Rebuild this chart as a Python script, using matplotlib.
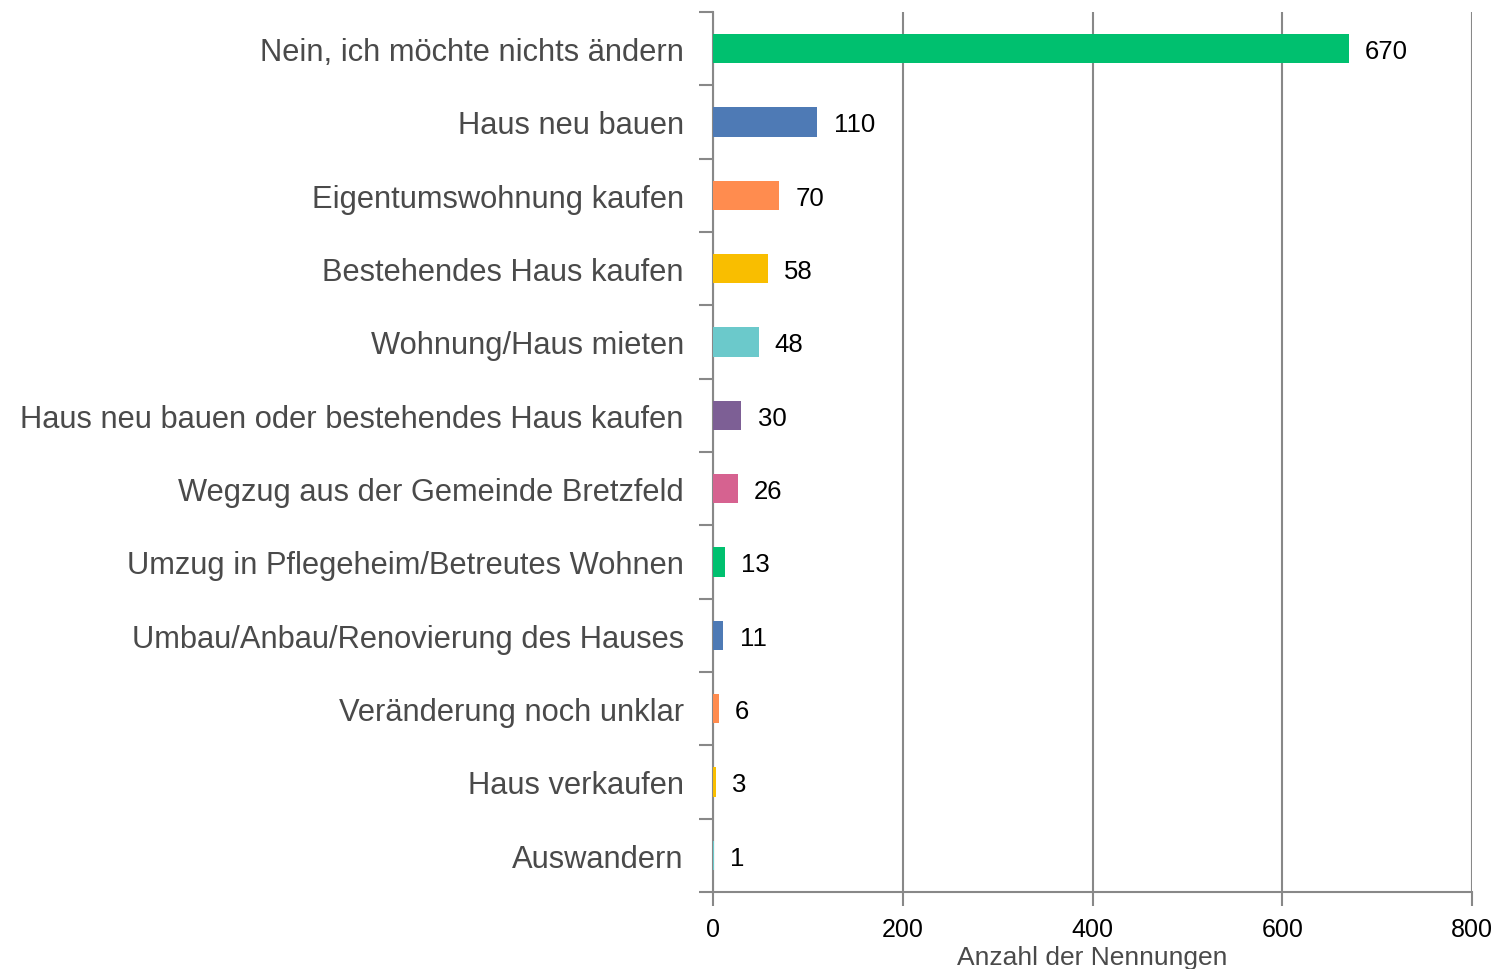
import matplotlib.pyplot as plt
import numpy as np

# Data
categories = [
    "Nein, ich möchte nichts ändern",
    "Haus neu bauen",
    "Eigentumswohnung kaufen",
    "Bestehendes Haus kaufen",
    "Wohnung/Haus mieten",
    "Haus neu bauen oder bestehendes Haus kaufen",
    "Wegzug aus der Gemeinde Bretzfeld",
    "Umzug in Pflegeheim/Betreutes Wohnen",
    "Umbau/Anbau/Renovierung des Hauses",
    "Veränderung noch unklar",
    "Haus verkaufen",
    "Auswandern",
]
values = [670, 110, 70, 58, 48, 30, 26, 13, 11, 6, 3, 1]
palette = ["#00C06F", "#4E7AB5", "#FF8C4F", "#F9BE00", "#6BC9CB", "#7D5F95", "#D66290"]
x_ticks = [0, 200, 400, 600, 800]

plt.rcParams['font.family'] = ['Liberation Sans', 'DejaVu Sans']

fig = plt.figure(figsize=(14.97, 9.7), dpi=100)
ax = fig.add_axes([0.4763, 0.0794, 0.507, 0.9072])

n = len(categories)
y = np.arange(n)
colors = [palette[i % len(palette)] for i in range(n)]
ax.barh(y, values, height=0.4, color=colors, zorder=3)

# value labels right of each bar
for yi, v in zip(y, values):
    ax.text(v + 17, yi, str(v), va="center_baseline", ha="left", fontsize=18.5,
            color="black", zorder=4)

ax.set_xlim(0, 800)
ax.set_ylim(n - 0.5, -0.5)
ax.set_xticks(x_ticks)
ax.set_xticklabels([str(t) for t in x_ticks], fontsize=18)

ax.set_yticks(y)
ax.set_yticklabels(categories, fontsize=22.2, color="#4a4a4a", va="center_baseline")
ax.set_yticks(np.arange(-0.5, n, 1), minor=True)
ax.tick_params(axis="y", which="major", length=0, pad=21)
ax.tick_params(axis="y", which="minor", length=10, width=1.5, color="#888888")
ax.tick_params(axis="x", length=10, width=1.5, color="#888888", pad=8)

ax.grid(axis="x", color="#888888", linewidth=1.5, zorder=0)
for s in ["top", "right"]:
    ax.spines[s].set_visible(False)
for s in ["left", "bottom"]:
    ax.spines[s].set_color("#888888")
    ax.spines[s].set_linewidth(1.5)

ax.set_xlabel("Anzahl der Nennungen", fontsize=19, color="#4a4a4a", labelpad=3)

fig.savefig("out.png", dpi=100)
